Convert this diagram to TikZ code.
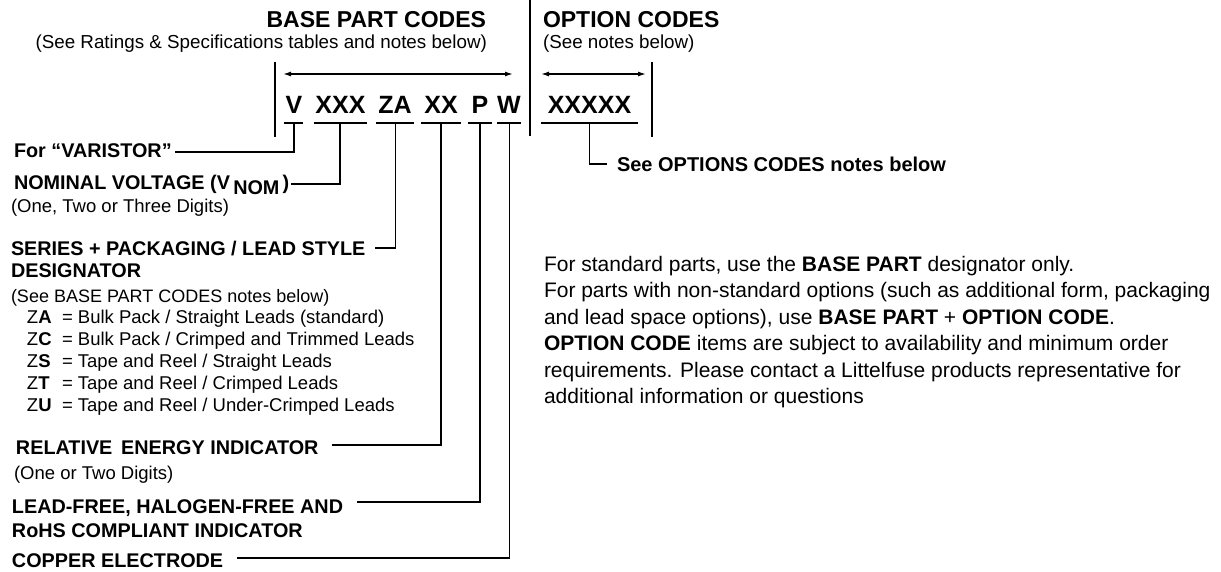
\documentclass[tikz,border=0pt]{standalone}
\usepackage{fontspec}
\setmainfont{Liberation Sans}
\usetikzlibrary{arrows.meta}
\newcommand\fsTitle{\fontsize{23}{27}\selectfont\bfseries}
\newcommand\fsSub{\fontsize{18.8}{22}\selectfont}
\newcommand\fsCode{\fontsize{25}{30}\selectfont\bfseries}
\newcommand\fsLbl{\fontsize{19.8}{23}\selectfont\bfseries}
\newcommand\fsNote{\fontsize{18.5}{22}\selectfont}
\newcommand\fsBody{\fontsize{21}{25}\selectfont}
\begin{document}
\begin{tikzpicture}[x=1pt,y=-1pt,
  txt/.style={inner sep=0pt, outer sep=0pt, anchor=base west},
  txtr/.style={inner sep=0pt, outer sep=0pt, anchor=base east},
  code/.style={inner sep=0pt, outer sep=0pt, anchor=base, font=\fsCode},
  lbl/.style={txt, font=\fsLbl},
  note/.style={txt, font=\fsNote},
  body/.style={txt, font=\fsBody},
  ln/.style={line width=1.3pt},
  uline/.style={line width=1.3pt},
  dim/.style={line width=1.4pt, {Latex[length=8pt,width=5pt]}-{Latex[length=8pt,width=5pt]}}]
\useasboundingbox (0,0) rectangle (1221,572);

% headings
\node[txtr, font=\fsTitle] (tBase) at (486,28) {BASE PART CODES};
\node[txtr, font=\fsSub] (sBase) at (487,48.5) {(See Ratings \& Specifications tables and notes below)};
\node[txt, font=\fsTitle] (tOpt) at (543,28) {OPTION CODES};
\node[txt, font=\fsSub] (sOpt) at (543,48.5) {(See notes below)};

% separators
\coordinate (sepLt) at (275,62);  \coordinate (sepLb) at (275,137);
\coordinate (sepCt) at (530,0);   \coordinate (sepCb) at (530,136);
\coordinate (sepRt) at (652,62);  \coordinate (sepRb) at (652,137);
\draw[ln] (sepLt) -- (sepLb);
\draw[ln] (sepCt) -- (sepCb);
\draw[ln] (sepRt) -- (sepRb);

% dimension arrows
\coordinate (bA) at (283,74); \coordinate (bB) at (513,74);
\coordinate (oA) at (541,74); \coordinate (oB) at (646,74);
\draw[dim] (bA) -- (bB);
\draw[dim] (oA) -- (oB);

% code letters
\node[code] (cV)   at (294,114)   {V};
\node[code] (cXXX) at (340.5,114) {XXX};
\node[code] (cZA)  at (395,114)   {ZA};
\node[code] (cXX)  at (441,114)   {XX};
\node[code] (cP)   at (480,114)   {P};
\node[code] (cW)   at (509,114)   {W};
\node[code] (cOpt) at (589.5,114) {XXXXX};

% underlines
\draw[uline] (284,123) -- (303,123);
\draw[uline] (314,123) -- (367,123);
\draw[uline] (376,123) -- (414,123);
\draw[uline] (421,123) -- (461,123);
\draw[uline] (468,123) -- (492,123);
\draw[uline] (497,123) -- (521,123);
\draw[uline] (541,123) -- (638,123);

\coordinate (uV) at (294,123);
\coordinate (uX) at (340,123);
\coordinate (uZ) at (395.5,123);
\coordinate (uE) at (441,123);
\coordinate (uP) at (480,123);
\coordinate (uW) at (509.5,123);
\coordinate (uO) at (589.5,123);

% left labels
\node[lbl] (lV) at (14,158) {For “VARISTOR”};
\node[lbl] (lNom) at (14,190) {NOMINAL VOLTAGE (V\,\raisebox{-5pt}{NOM}\,)};
\node[note] (nNom) at (11,212.5) {(One, Two or Three Digits)};
\node[lbl] (lSer) at (11,255) {SERIES + PACKAGING / LEAD STYLE};
\node[lbl] (lSer2) at (11,277) {DESIGNATOR};
\node[note, font=\fontsize{18}{22}\selectfont] (nSer) at (11,302.5) {(See BASE PART CODES notes below)};

\node[note] (zA) at (27,323.5) {Z\textbf{A}};
\node[note] (zC) at (27,345.5) {Z\textbf{C}};
\node[note] (zS) at (27,367.5) {Z\textbf{S}};
\node[note] (zT) at (27,389.5) {Z\textbf{T}};
\node[note] (zU) at (27,411.5) {Z\textbf{U}};
\node[note] (dA) at (62,323.5) {= Bulk Pack / Straight Leads (standard)};
\node[note] (dC) at (62,345.5) {= Bulk Pack / Crimped and Trimmed Leads};
\node[note] (dS) at (62,367.5) {= Tape and Reel / Straight Leads};
\node[note] (dT) at (62,389.5) {= Tape and Reel / Crimped Leads};
\node[note] (dU) at (62,411.5) {= Tape and Reel / Under-Crimped Leads};

\node[lbl] (lRel) at (16,454) {RELATIVE\, ENERGY INDICATOR};
\node[note] (nRel) at (14,479.5) {(One or Two Digits)};
\node[lbl] (lLead) at (12,513) {LEAD-FREE, HALOGEN-FREE AND};
\node[lbl] (lLead2) at (12,537) {RoHS COMPLIANT INDICATOR};
\node[lbl] (lCu) at (12,567) {COPPER ELECTRODE};

\node[lbl, font=\fontsize{20}{24}\selectfont\bfseries] (lOpt) at (617,172) {See OPTIONS CODES notes below};

% connectors
\coordinate (sV) at (175,152);
\coordinate (sX) at (291,184);
\coordinate (sZ) at (375,248);
\coordinate (sE) at (332,445);
\coordinate (sP) at (357,502);
\coordinate (sW) at (237,558);
\coordinate (sO) at (607,164);
\draw[ln] (sV) -| (uV);
\draw[ln] (sX) -| (uX);
\draw[ln] (sZ) -| (uZ);
\draw[ln] (sE) -| (uE);
\draw[ln] (sP) -| (uP);
\draw[ln] (sW) -| (uW);
\draw[ln] (uO) |- (sO);

% right text block
\node[body] (r1) at (544,271)   {For standard parts, use the \textbf{BASE PART} designator only.};
\node[body] (r2) at (544,297.5) {For parts with non-standard options (such as additional form, packaging};
\node[body] (r3) at (544,324)   {and lead space options), use \textbf{BASE PART} + \textbf{OPTION CODE}.};
\node[body] (r4) at (544,350.5) {\textbf{OPTION CODE} items are subject to availability and minimum order};
\node[body] (r5) at (544,377)   {requirements. Please contact a Littelfuse products representative for};
\node[body] (r6) at (544,403.5) {additional information or questions};
\end{tikzpicture}
\end{document}
